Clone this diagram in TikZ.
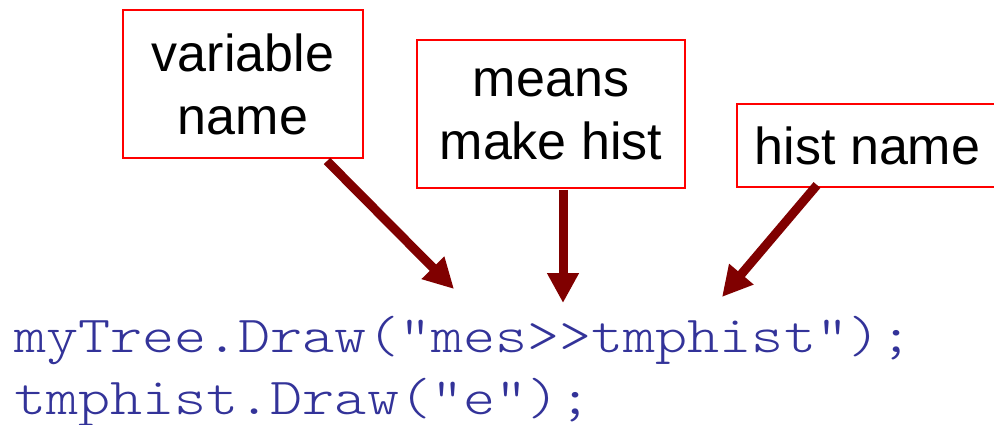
\documentclass[tikz,border=0pt]{standalone}
\usepackage{fontspec}
\setmainfont{Liberation Sans}
\newfontfamily\codefont[FakeStretch=1.175]{Latin Modern Mono Light}
\usetikzlibrary{arrows.meta}
\definecolor{boxred}{RGB}{255,0,0}
\definecolor{arrowred}{RGB}{128,0,0}
\definecolor{codeblue}{RGB}{51,51,153}
\begin{document}
\begin{tikzpicture}[x=1pt,y=-1pt,
  label box/.style={draw=boxred,line width=1.4pt,fill=white,inner sep=0pt,
    align=center,font=\fontsize{52}{63}\selectfont},
  pointer/.style={draw=arrowred,line width=9pt,
    -{Triangle[length=30pt,width=30pt]}},
  code/.style={anchor=base west,inner sep=0pt,text=codeblue,
    font=\codefont\fontsize{52}{60}\selectfont}]
  \useasboundingbox (0,0) rectangle (994,425);

  % labels
  \node[label box,minimum width=240pt,minimum height=148pt] (var) at (243,84)
    {variable\\name};
  \node[label box,minimum width=268pt,minimum height=148pt] (make) at (551,114)
    {means\\make hist};
  \node[label box,minimum width=261pt,minimum height=83pt] (hname) at (867.5,145.5)
    {hist name};

  % code lines
  \node[code] (line1) at (14,352) {myTree.Draw("mes>>tmphist");};
  \node[code] (line2) at (14,414) {tmphist.Draw("e");};

  % pointer arrows
  \coordinate (s1) at (327,161);
  \coordinate (e1) at (454,289);
  \coordinate (s2) at (563,190);
  \coordinate (e2) at (563,303);
  \coordinate (s3) at (817,185);
  \coordinate (e3) at (722,297);
  \draw[pointer] (s1) -- (e1);
  \draw[pointer] (s2) -- (e2);
  \draw[pointer] (s3) -- (e3);
\end{tikzpicture}
\end{document}
